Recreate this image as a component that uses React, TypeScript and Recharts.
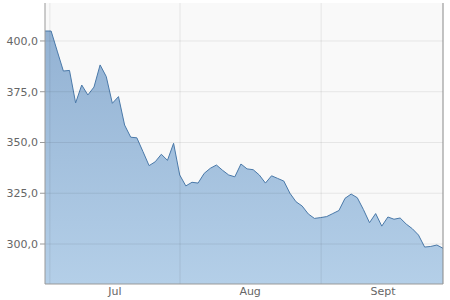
import { AreaChart, Area, XAxis, YAxis, CartesianGrid, ReferenceLine } from "recharts";

// trading-day index along the x axis, one value per day
const prices = [
  404.9, 404.9, 395.0, 385.2, 385.5, 369.5, 378.3, 373.4, 377.3, 388.2,
  382.5, 369.3, 372.6, 358.6, 352.6, 352.3, 345.5, 338.6, 340.5, 344.2,
  341.2, 349.6, 334.0, 328.6, 330.4, 330.0, 334.8, 337.3, 338.9, 336.3,
  334.0, 333.1, 339.4, 337.0, 336.6, 334.0, 330.0, 333.6, 332.3, 331.0,
  325.0, 320.8, 318.7, 314.8, 312.6, 313.0, 313.5, 315.0, 316.5, 322.5,
  324.6, 322.8, 317.0, 310.5, 315.0, 308.8, 313.3, 312.2, 312.8, 309.8,
  307.5, 304.4, 298.5, 298.8, 299.5, 297.9,
];

const monthLabels = ["Jul", "Aug", "Sept"];
const monthLabelPos = [11.43, 33.5, 55.2];
const monthStarts = [0.8, 22.05, 45.1];
const yTicks = [300, 325, 350, 375, 400];

const data = prices.map((price, i) => ({ i, price }));

export default function App() {
  return (
    <div style={{ position: "absolute", left: 0, top: 0, background: "#fff" }}>
      <AreaChart
        width={450}
        height={300}
        data={data}
        margin={{ top: 3, right: 7, bottom: 0, left: 0 }}
      >
        <defs>
          <linearGradient id="areaFill" x1="0" y1="0" x2="0" y2="1">
            <stop offset="0%" stopColor="#93b2d3" />
            <stop offset="100%" stopColor="#b4cfe8" />
          </linearGradient>
        </defs>
        <CartesianGrid
          horizontal={false}
          vertical={false}
          fill="#f9f9f9"
        />
        <XAxis
          dataKey="i"
          type="number"
          domain={[0, prices.length - 1]}
          ticks={monthLabelPos}
          tickFormatter={(v) => monthLabels[monthLabelPos.indexOf(v)] ?? ""}
          tick={{ fill: "#666", fontSize: 11, fontFamily: "DejaVu Sans" }}
          tickLine={false}
          tickSize={0}
          tickMargin={3}
          axisLine={{ stroke: "#999" }}
          height={16}
          interval={0}
        />
        <YAxis
          domain={[280.3, 418.7]}
          ticks={yTicks}
          tickFormatter={(v) => v.toFixed(1).replace(".", ",")}
          tick={{ fill: "#666", fontSize: 11, fontFamily: "DejaVu Sans" }}
          tickLine={{ stroke: "#999" }}
          tickSize={5}
          tickMargin={2}
          axisLine={{ stroke: "#999" }}
          width={45}
          allowDataOverflow
        />
        <Area
          type="linear"
          dataKey="price"
          stroke="#4a79a9"
          strokeWidth={1}
          fill="url(#areaFill)"
          fillOpacity={1}
          isAnimationActive={false}
          dot={false}
          activeDot={false}
        />
        {yTicks.map((t) => (
          <ReferenceLine key={t} y={t} stroke="rgba(0,0,0,0.08)" />
        ))}
        {monthStarts.map((m) => (
          <ReferenceLine key={m} x={m} stroke="rgba(0,0,0,0.08)" />
        ))}
        <ReferenceLine x={prices.length - 1} stroke="#888" />
      </AreaChart>
    </div>
  );
}
